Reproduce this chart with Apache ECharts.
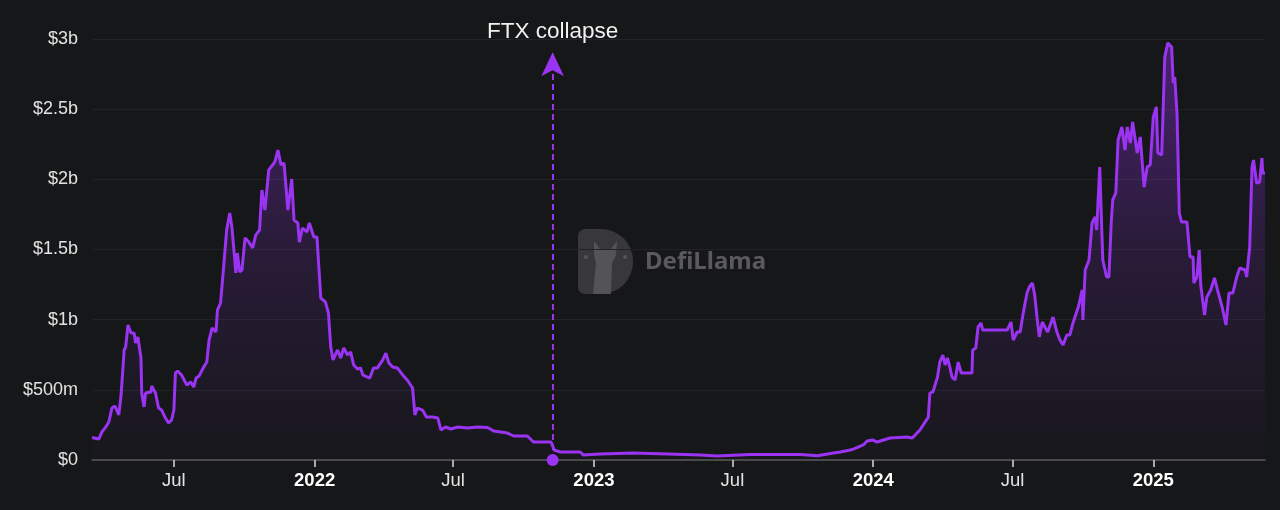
<!DOCTYPE html>
<html>
<head>
<meta charset="utf-8">
<script src="https://cdn.jsdelivr.net/npm/echarts@6/dist/echarts.min.js"></script>
<style>
  html, body { margin: 0; padding: 0; background: #161719; }
  #chart { width: 1280px; height: 510px; }
</style>
</head>
<body>
<div id="chart"></div>
<script>
// ---- data (TVL in $ millions) ----
const dates = [
'2021-03-16','2021-03-25','2021-03-29','2021-04-03','2021-04-07','2021-04-11','2021-04-15','2021-04-20','2021-04-23','2021-04-27',
'2021-04-29','2021-05-02','2021-05-06','2021-05-10','2021-05-12','2021-05-15','2021-05-19','2021-05-20','2021-05-23','2021-05-25',
'2021-06-01','2021-06-02','2021-06-07','2021-06-11','2021-06-15','2021-06-20','2021-06-24','2021-06-28','2021-07-01','2021-07-03',
'2021-07-06','2021-07-11','2021-07-18','2021-07-23','2021-07-27','2021-07-30','2021-08-03','2021-08-09','2021-08-13','2021-08-16',
'2021-08-20','2021-08-25','2021-08-27','2021-08-31','2021-09-04','2021-09-08','2021-09-12','2021-09-15','2021-09-17','2021-09-20',
'2021-09-22','2021-09-25','2021-09-28','2021-10-02','2021-10-07','2021-10-12','2021-10-16','2021-10-21','2021-10-24','2021-10-26',
'2021-10-28','2021-11-02','2021-11-07','2021-11-10','2021-11-14','2021-11-18','2021-11-22','2021-11-27','2021-12-02','2021-12-05',
'2021-12-10','2021-12-12','2021-12-16','2021-12-22','2021-12-25','2021-12-31','2022-01-04','2022-01-09','2022-01-15','2022-01-19',
'2022-01-22','2022-01-25','2022-01-31','2022-02-04','2022-02-08','2022-02-13','2022-02-17','2022-02-21','2022-02-26','2022-03-02',
'2022-03-05','2022-03-11','2022-03-14','2022-03-19','2022-03-24','2022-03-31','2022-04-04','2022-04-08','2022-04-13','2022-04-19',
'2022-04-26','2022-05-02','2022-05-09','2022-05-12','2022-05-15','2022-05-22','2022-05-27','2022-06-04','2022-06-11','2022-06-15',
'2022-06-21','2022-06-28','2022-07-07','2022-07-20','2022-08-02','2022-08-15','2022-08-23','2022-09-10','2022-09-18','2022-10-06',
'2022-10-14','2022-11-01','2022-11-06','2022-11-10','2022-11-18','2022-12-14','2022-12-18','2023-01-09','2023-02-22','2023-04-07',
'2023-05-20','2023-06-11','2023-07-24','2023-09-28','2023-10-20','2023-11-10','2023-11-19','2023-12-02','2023-12-06','2023-12-19',
'2023-12-24','2023-12-31','2024-01-06','2024-01-23','2024-02-14','2024-02-21','2024-03-02','2024-03-13','2024-03-15','2024-03-19',
'2024-03-25','2024-03-28','2024-04-01','2024-04-04','2024-04-07','2024-04-10','2024-04-13','2024-04-17','2024-04-21','2024-04-25',
'2024-05-09','2024-05-10','2024-05-14','2024-05-17','2024-05-21','2024-05-23','2024-06-24','2024-06-29','2024-07-02','2024-07-07',
'2024-07-11','2024-07-15','2024-07-20','2024-07-23','2024-07-27','2024-07-30','2024-08-02','2024-08-05','2024-08-09','2024-08-13',
'2024-08-16','2024-08-23','2024-08-28','2024-09-01','2024-09-05','2024-09-10','2024-09-14','2024-09-18','2024-09-25','2024-09-30',
'2024-10-01','2024-10-04','2024-10-09','2024-10-13','2024-10-17','2024-10-19','2024-10-23','2024-10-26','2024-10-27','2024-11-01',
'2024-11-04','2024-11-07','2024-11-09','2024-11-13','2024-11-16','2024-11-21','2024-11-25','2024-11-28','2024-12-02','2024-12-05',
'2024-12-11','2024-12-15','2024-12-20','2024-12-24','2024-12-28','2025-01-01','2025-01-05','2025-01-07','2025-01-12','2025-01-16',
'2025-01-20','2025-01-25','2025-01-27','2025-01-29','2025-02-01','2025-02-04','2025-02-07','2025-02-14','2025-02-18','2025-02-22',
'2025-02-23','2025-02-27','2025-03-02','2025-03-04','2025-03-09','2025-03-12','2025-03-17','2025-03-22','2025-03-26','2025-04-01',
'2025-04-06','2025-04-10','2025-04-15','2025-04-20','2025-04-24','2025-05-01','2025-05-03','2025-05-07','2025-05-10','2025-05-12',
'2025-05-16','2025-05-20','2025-05-23','2025-05-24','2025-05-27'
];
const tvl = [
160,150,200,235,271,370,385,321,463,784,
805,962,905,905,834,877,727,477,378,477,
485,527,477,370,356,299,264,285,356,620,
634,606,534,556,520,584,599,663,698,855,
941,912,1069,1119,1375,1639,1760,1653,1653,1333,
1475,1340,1354,1582,1553,1511,1603,1639,1924,1938,
1781,2067,2102,2124,2209,2102,2116,1781,2002,1710,
1689,1553,1653,1625,1689,1589,1589,1154,1126,1048,
805,713,784,727,798,748,770,677,648,656,
606,591,584,656,656,713,762,691,663,656,
606,570,513,321,370,356,306,306,299,214,
235,221,235,228,235,232,207,192,171,171,
128,128,128,71,57,57,36,43,50,43,
36,28,40,40,30,50,57,71,78,107,
135,143,128,157,164,157,214,306,477,485,
591,698,748,677,727,663,591,570,698,620,
620,784,798,948,976,926,926,983,855,912,
912,1048,1190,1233,1261,1176,1019,877,983,941,
912,1019,912,855,820,891,891,976,1090,1211,
998,1354,1425,1689,1732,1639,2088,1589,1425,1304,
1304,1689,1853,1903,2280,2373,2209,2373,2259,2409,
2188,2302,1945,2088,2102,2444,2516,2188,2173,2872,
2972,2943,2687,2729,2473,1760,1696,1696,1447,1447,
1261,1304,1496,1247,1033,1162,1211,1297,1211,1090,
962,1190,1190,1304,1368,1354,1304,1518,2088,2138,
1974,1981,2152,2045,2045
];
const tickDates = ['2021-07-01','2022-01-01','2022-07-01','2023-01-01','2023-07-01','2024-01-01','2024-07-01','2025-01-01'];
const tickLabels = ['Jul','2022','Jul','2023','Jul','2024','Jul','2025'];
const yTickLabels = ['$0','$500m','$1b','$1.5b','$2b','$2.5b','$3b'];
const eventDate = '2022-11-08';
const eventLabel = 'FTX collapse';
const eventArrowTop = 2905;

// ---- chart ----
function toTs(s) { const p = s.split('-'); return Date.UTC(+p[0], +p[1] - 1, +p[2]); }
const tickTs = tickDates.map(toTs);
const seriesData = dates.map((d, i) => [toTs(d), tvl[i]]);
const PURPLE = '#9a34f2';
const FONT = '"Liberation Sans", Arial, sans-serif';

const chart = echarts.init(document.getElementById('chart'), null, { renderer: 'canvas' });
chart.setOption({
  backgroundColor: '#161719',
  animation: false,
  grid: { left: 92, right: 15, top: 39, bottom: 50, containLabel: false },
  xAxis: {
    type: 'value',
    min: toTs('2021-03-16'),
    max: toTs('2025-05-27'),
    axisLine: { show: true, lineStyle: { color: '#5a5a5c', width: 1.5 } },
    axisTick: { show: true, length: 7, lineStyle: { color: '#dcdcdc', width: 1.5 }, customValues: tickTs },
    splitLine: { show: false },
    axisLabel: {
      customValues: tickTs,
      margin: 11,
      color: '#e2e2e2',
      fontSize: 18.5,
      fontFamily: FONT,
      hideOverlap: false,
      showMinLabel: true,
      showMaxLabel: true,
      formatter: function (val) {
        let idx = -1;
        for (let i = 0; i < tickTs.length; i++) { if (Math.abs(tickTs[i] - val) < 1000) idx = i; }
        const t = idx >= 0 ? tickLabels[idx] : '';
        return /^\d{4}$/.test(t) ? '{y|' + t + '}' : t;
      },
      rich: { y: { fontWeight: 'bold', color: '#ffffff', fontSize: 18.5, fontFamily: FONT } }
    }
  },
  yAxis: {
    type: 'value',
    min: 0, max: 3000, interval: 500,
    axisLine: { show: false },
    axisTick: { show: false },
    splitLine: { show: true, lineStyle: { color: '#222326', width: 1 } },
    axisLabel: {
      margin: 14,
      color: '#e2e2e2',
      fontSize: 18,
      fontFamily: FONT,
      formatter: function (val) { return yTickLabels[Math.round(val / 500)] || ''; }
    }
  },
  graphic: [
    {
      type: 'group', left: 578, top: 229, silent: true, z: 0,
      children: [
        { type: 'rect', shape: { x: 0, y: 0, width: 55, height: 65, r: [7, 32, 32, 7] }, style: { fill: '#38383a' } },
        { type: 'polygon', shape: { points: [[16, 12], [22, 20], [33, 20], [39, 12], [38, 26], [34, 34], [33, 65], [15, 65], [18, 34], [16, 26]] }, style: { fill: '#545456' } },
        { type: 'circle', shape: { cx: 8, cy: 28, r: 2 }, style: { fill: '#555' } },
        { type: 'circle', shape: { cx: 47, cy: 28, r: 2 }, style: { fill: '#555' } }
      ]
    },
    {
      type: 'text', left: 645, top: 250, silent: true, z: 0,
      style: { text: 'DefiLlama', fill: '#5a5a5c', font: 'bold 24px "Noto Sans", sans-serif' }
    }
  ],
  series: [{
    type: 'line',
    data: seriesData,
    showSymbol: false,
    symbol: 'none',
    lineStyle: { color: PURPLE, width: 3 },
    itemStyle: { color: PURPLE },
    areaStyle: {
      color: new echarts.graphic.LinearGradient(0, 0, 0, 1, [
        { offset: 0, color: 'rgba(154,52,242,0.55)' },
        { offset: 0.5, color: 'rgba(154,52,242,0.2)' },
        { offset: 1, color: 'rgba(154,52,242,0.02)' }
      ])
    },
    z: 3,
    markLine: {
      silent: true,
      animation: false,
      symbol: ['circle', 'arrow'],
      lineStyle: { color: PURPLE, type: [6, 4], width: 2 },
      label: {
        show: true, position: 'end', distance: 9,
        formatter: eventLabel,
        color: '#f0f0f0', fontSize: 22.5, fontFamily: FONT
      },
      emphasis: { disabled: true },
      data: [[
        { coord: [toTs(eventDate), 0], symbol: 'circle', symbolSize: 12 },
        { coord: [toTs(eventDate), eventArrowTop], symbol: 'arrow', symbolSize: [17, 24] }
      ]]
    }
  }]
});
</script>
</body>
</html>
